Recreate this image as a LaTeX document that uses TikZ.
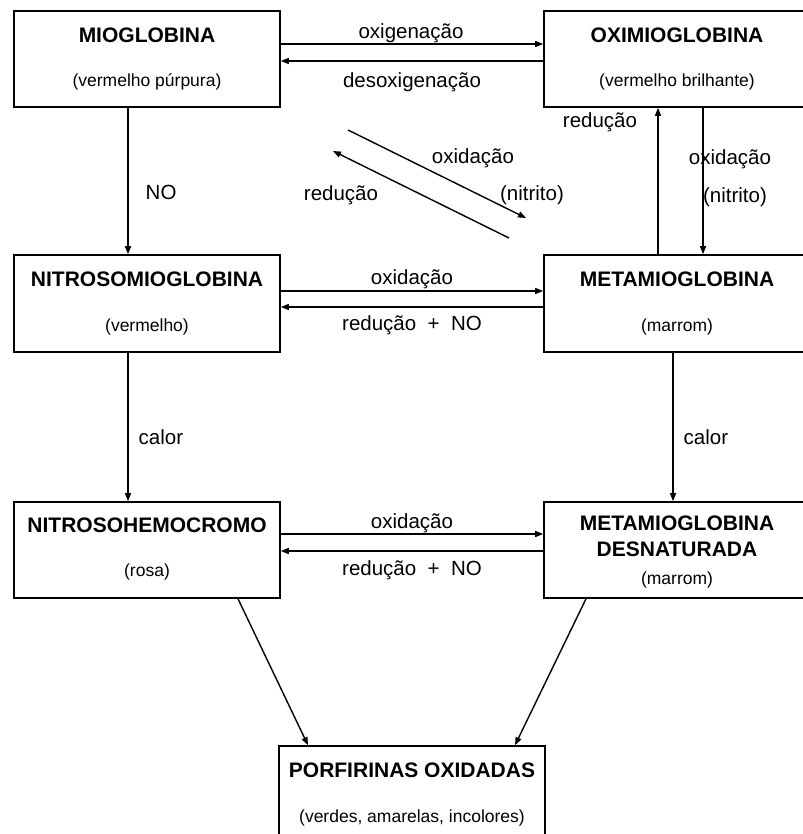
\documentclass[tikz,border=0pt]{standalone}
\usepackage{fontspec}
\setmainfont{Liberation Sans}
\usetikzlibrary{arrows.meta, calc}

\tikzset{
    statebox/.style={draw, line width=1.6pt, minimum width=266pt, minimum height=96pt, inner sep=0pt},
    statename/.style={font=\fontsize{21}{26}\selectfont\bfseries, align=center, inner sep=0pt},
    statecolor/.style={font=\fontsize{17.5}{20}\selectfont, inner sep=0pt},
    reacarrow/.style={-{Triangle[length=8pt, width=6pt]}, line width=1.4pt},
    reaclabel/.style={font=\fontsize{20.5}{24}\selectfont, inner sep=0pt, align=center},
}

\begin{document}
\begin{tikzpicture}[x=1pt, y=-1pt]
    \useasboundingbox (0,0) rectangle (802,834);

    % Top row
    \node[statebox] (mio) at (147,59) {};
    \node[statename] (mioname) at (147,35) {MIOGLOBINA};
    \node[statecolor] (miocolor) at (147,82) {(vermelho púrpura)};
    \node[statebox] (oxi) at (677,59) {};
    \node[statename] (oxiname) at (677,35) {OXIMIOGLOBINA};
    \node[statecolor] (oxicolor) at (677,82) {(vermelho brilhante)};

    % Middle row
    \node[statebox, minimum height=97pt] (nitm) at (147,303.5) {};
    \node[statename] (nitmname) at (147,279) {NITROSOMIOGLOBINA};
    \node[statecolor] (nitmcolor) at (147,327) {(vermelho)};
    \node[statebox, minimum height=97pt] (metam) at (677,303.5) {};
    \node[statename] (metamname) at (677,279) {METAMIOGLOBINA};
    \node[statecolor] (metamcolor) at (677,327) {(marrom)};

    % Bottom row
    \node[statebox] (nith) at (147,550) {};
    \node[statename] (nithname) at (147,525) {NITROSOHEMOCROMO};
    \node[statecolor] (nithcolor) at (147,572) {(rosa)};
    \node[statebox] (metad) at (677,550) {};
    \node[statename] (metadname) at (677,536.5) {METAMIOGLOBINA\\DESNATURADA};
    \node[statecolor] (metadcolor) at (677,580) {(marrom)};

    % End product
    \node[statebox, minimum height=98pt] (porf) at (412,795) {};
    \node[statename] (porfname) at (412,770) {PORFIRINAS OXIDADAS};
    \node[statecolor] (porfcolor) at (412,818) {(verdes, amarelas, incolores)};

    % Horizontal reactions
    \draw[reacarrow] ($(mio.east)+(-2,-15)$) -- node[reaclabel, above=0pt] (lbloxig) {oxigenação} ($(oxi.west)+(0,-15)$);
    \draw[reacarrow] ($(oxi.west)+(0,2)$) -- node[reaclabel, below=11pt] (lbldesox) {desoxigenação} ($(mio.east)+(0,2)$);
    \draw[reacarrow] ($(nitm.east)+(0,-12.5)$) -- node[reaclabel, above=1.5pt] (lbloxm) {oxidação} ($(metam.west)+(0,-12.5)$);
    \draw[reacarrow] ($(metam.west)+(0,3.5)$) -- node[reaclabel, below=8pt] (lblredm) {redução~~+~~NO} ($(nitm.east)+(0,3.5)$);
    \draw[reacarrow] ($(nith.east)+(0,-16)$) -- node[reaclabel, above=0pt] (lbloxh) {oxidação} ($(metad.west)+(0,-16)$);
    \draw[reacarrow] ($(metad.west)+(0,1)$) -- node[reaclabel, below=9pt] (lblredh) {redução~~+~~NO} ($(nith.east)+(0,1)$);

    % Vertical reactions
    \draw[reacarrow] ($(mio.south)+(-19,0)$) -- node[reaclabel, right=17pt, pos=0.58] (lblno) {NO} ($(nitm.north)+(-19,0)$);
    \draw[reacarrow] ($(oxi.south)+(26,0)$) -- ($(metam.north)+(26,0)$);
    \node[reaclabel] (lbloxv) at (730,159) {oxidação};
    \node[reaclabel] (lblnitv) at (735,197) {(nitrito)};
    \draw[reacarrow] ($(metam.north)+(-19,0)$) -- ($(oxi.south)+(-19,0)$);
    \node[reaclabel] (lblredv) at (600,122) {redução};
    \draw[reacarrow] ($(nitm.south)+(-19,0)$) -- node[reaclabel, right=10pt, pos=0.57] (lblcalorl) {calor} ($(nith.north)+(-19,0)$);
    \draw[reacarrow] ($(metam.south)+(-4,0)$) -- node[reaclabel, right=10pt, pos=0.57] (lblcalorr) {calor} ($(metad.north)+(-4,0)$);

    % Diagonal reactions
    \coordinate (oxstart) at (348,130);
    \coordinate (oxend) at (526,218);
    \coordinate (redstart) at (509,238);
    \coordinate (redend) at (333,151);
    \draw[reacarrow] (oxstart) -- (oxend);
    \draw[reacarrow] (redstart) -- (redend);
    \node[reaclabel] (lbloxd) at (473,158) {oxidação};
    \node[reaclabel] (lblnitd) at (532,195) {(nitrito)};
    \node[reaclabel] (lblredd) at (341,195) {redução};

    % To oxidized porphyrins
    \draw[reacarrow] ($(nith.south)+(91,0)$) -- ($(porf.north)+(-104,0)$);
    \draw[reacarrow] ($(metad.south)+(-91,0)$) -- ($(porf.north)+(103,0)$);
\end{tikzpicture}
\end{document}
